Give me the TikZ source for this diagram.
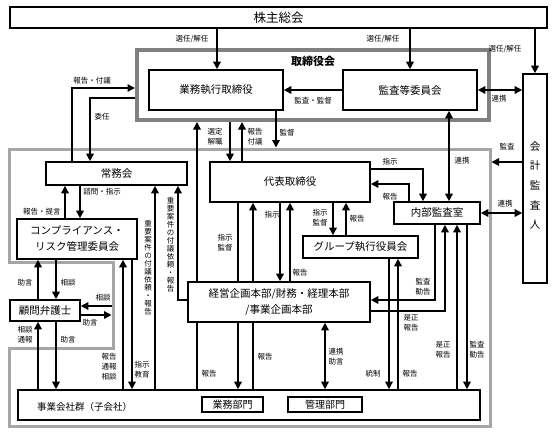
\documentclass[tikz,border=0pt]{standalone}
\usepackage{fontspec}
\setmainfont{Noto Sans CJK JP}
\usetikzlibrary{arrows.meta}
\pgfdeclarelayer{frames}
\pgfdeclarelayer{links}
\pgfsetlayers{frames,links,main}
\tikzset{
  box/.style={draw, line width=1.6pt, fill=white, inner sep=0pt, align=center, font=\fontsize{10.5}{16}\selectfont},
  lnk/.style={line width=1.5pt, -{Triangle[length=7.5pt,width=7.5pt]}},
  dbl/.style={line width=1.5pt, {Triangle[length=7.5pt,width=7.5pt]}-{Triangle[length=7.5pt,width=7.5pt]}},
  lab/.style={inner sep=0pt, align=center, font=\fontsize{7.5}{10}\selectfont},
  vlab/.style={inner sep=0pt, align=center, font=\fontsize{7.5}{8}\selectfont},
}
\begin{document}
\begin{tikzpicture}[x=1pt,y=-1pt]
\useasboundingbox (0,0) rectangle (554,436);
% frames
\begin{pgfonlayer}{frames}
\node[draw=black!50, line width=4pt, minimum width=352pt, minimum height=70pt, inner sep=0pt] (tb) at (313,85) {};
\draw[black!35, line width=3pt] (9,149) -- (490,149) -- (490,426) -- (9,426) -- (9,348) -- (113,348) -- (113,262) -- (9,262) -- cycle;
\end{pgfonlayer}
\coordinate (fN) at (0,147.5);
\coordinate (fE) at (491.5,0);
\coordinate (fW) at (111.5,0);
% boxes
\node[box, minimum width=537pt, minimum height=21pt, font=\fontsize{12.5}{14}\selectfont] (kabu) at (278.5,17.5) {株主総会};
\node[font=\bfseries\fontsize{11}{13}\selectfont, inner sep=0pt] (tbt) at (313,61) {取締役会};
\node[box, minimum width=134pt, minimum height=40pt] (gyomu) at (216,90) {業務執行取締役};
\node[box, minimum width=134pt, minimum height=40pt] (kansa) at (410,90) {監査等委員会};
\node[box, minimum width=24pt, minimum height=209pt] (kaikei) at (535,178.5) {};
\node[inner sep=0pt, align=center, font=\fontsize{10.5}{19.7}\selectfont] (kaikeit) at (535,185.5) {会\\計\\監\\査\\人};
\node[box, minimum width=141pt, minimum height=23pt] (jomu) at (116.5,173.5) {常務会};
\node[box, minimum width=120pt, minimum height=40pt] (comp) at (77,239) {コンプライアンス・\\リスク管理委員会};
\node[box, minimum width=70pt, minimum height=21pt] (komon) at (45,310.5) {顧問弁護士};
\node[box, minimum width=160pt, minimum height=40pt] (daihyo) at (290,182) {代表取締役};
\node[box, minimum width=86pt, minimum height=22pt] (naibu) at (437,213) {内部監査室};
\node[box, minimum width=115pt, minimum height=22pt] (group) at (360.5,247) {グループ執行役員会};
\node[box, minimum width=182pt, minimum height=40pt] (keiei) at (279,302) {経営企画本部/財務・経理本部\\/事業企画本部};
\node[box, minimum width=462pt, minimum height=30pt] (jigyo) at (249,405) {};
\node[anchor=west, inner sep=0pt, font=\fontsize{9.5}{11}\selectfont] (jigyot) at (37,407) {事業会社群（子会社）};
\node[box, minimum width=61pt, minimum height=15pt, font=\fontsize{10}{12}\selectfont] (gb) at (232.5,404.5) {業務部門};
\node[box, minimum width=74pt, minimum height=15pt, font=\fontsize{10}{12}\selectfont] (kb) at (325,404.5) {管理部門};
% connectors
\begin{pgfonlayer}{links}
\draw[lnk] (kabu.south -| 217,0) -- (gyomu.north -| 217,0);
\draw[lnk] (kabu.south -| 410,0) -- (kansa.north);
\draw[lnk] (kabu.south -| 535,0) -- (kaikei.north);
\draw[lnk] (kansa.west) -- (gyomu.east);
\draw[dbl] (kansa.east) -- (kaikei.west |- kansa.east);
\draw[lnk] (jomu.north -| 72,0) -- (72,88) -- (tb.west |- 0,88);
\draw[lnk] (tb.west |- 0,98) -- (90,98) -- (jomu.north -| 90,0);
\draw[lnk] (gyomu.south -| 276,0) -- (276,0 |- fN);
\draw[lnk] (tb.south -| 230,0) -- (daihyo.north -| 230,0);
\draw[lnk] (daihyo.north -| 242,0) -- (tb.south -| 242,0);
\draw[lnk] (jigyo.north -| 197,0) -- (tb.south -| 197,0);
\draw[lnk] (kaikei.west |- 0,162) -- (fE |- 0,162);
\draw[dbl] (kansa.south -| 449,0) -- (naibu.north -| 449,0);
\draw[dbl] (naibu.east) -- (kaikei.west |- naibu.east);
\draw[lnk] (daihyo.east |- 0,169) -- (423,169) -- (naibu.north -| 423,0);
\draw[lnk] (naibu.north -| 409,0) -- (409,184) -- (daihyo.east |- 0,184);
\draw[lnk] (daihyo.south -| 333,0) -- (group.north -| 333,0);
\draw[lnk] (group.north -| 346,0) -- (daihyo.south -| 346,0);
\draw[lnk] (daihyo.south -| 238,0) -- (jigyo.north -| 238,0);
\draw[lnk] (jigyo.north -| 253,0) -- (daihyo.south -| 253,0);
\draw[lnk] (daihyo.south -| 280,0) -- (keiei.north -| 280,0);
\draw[lnk] (keiei.north -| 290,0) -- (daihyo.south -| 290,0);
\draw[dbl] (keiei.south -| 325,0) -- (jigyo.north -| 325,0);
\draw[lnk] (naibu.south -| 435,0) -- (435,300) -- (keiei.east |- 0,300);
\draw[lnk] (keiei.east |- 0,311) -- (445,311) -- (naibu.south -| 445,0);
\draw[lnk] (jigyo.north -| 457,0) -- (naibu.south -| 457,0);
\draw[lnk] (naibu.south -| 467,0) -- (jigyo.north -| 467,0);
\draw[lnk] (group.south -| 389,0) -- (jigyo.north -| 389,0);
\draw[lnk] (jigyo.north -| 398,0) -- (group.south -| 398,0);
\draw[lnk] (jigyo.north -| 155,0) -- (jomu.south -| 155,0);
\draw[lnk] (keiei.west |- 0,300) -- (178,300) -- (jomu.south -| 178,0);
\draw[lnk] (comp.north -| 65,0) -- (jomu.south -| 65,0);
\draw[lnk] (jomu.south -| 80,0) -- (comp.north -| 80,0);
\draw[lnk] (jigyo.north -| 123,0) -- (comp.south -| 123,0);
\draw[lnk] (comp.south -| 132,0) -- (jigyo.north -| 132,0);
\draw[lnk] (komon.north -| 38,0) -- (comp.south -| 38,0);
\draw[lnk] (comp.south -| 56,0) -- (komon.north -| 56,0);
\draw[lnk] (fW |- 0,306) -- (komon.east |- 0,306);
\draw[lnk] (komon.east |- 0,315) -- (fW |- 0,315);
\draw[lnk] (jigyo.north -| 38,0) -- (komon.south -| 38,0);
\draw[lnk] (komon.south -| 56,0) -- (jigyo.north -| 56,0);
\end{pgfonlayer}
% labels
\node[lab] at (192,39) {選任/解任};
\node[lab] at (383,39) {選任/解任};
\node[lab] at (505,49) {選任/解任};
\node[lab] at (313,101) {監査・監督};
\node[lab] at (499,99) {連携};
\node[lab] at (92,81) {報告・付議};
\node[lab] at (102,117) {委任};
\node[lab] at (287,133) {監督};
\node[lab] at (215,137) {選定\\解職};
\node[lab] at (255,137) {報告\\付議};
\node[lab] at (209,374) {報告};
\node[lab] at (507,147) {監査};
\node[lab] at (462,161) {連携};
\node[lab] at (505,204) {連携};
\node[lab] at (390,162) {指示};
\node[lab] at (390,197) {報告};
\node[lab] at (320,218) {指示\\監督};
\node[lab] at (357,219) {報告};
\node[lab] at (225,243) {指示\\監督};
\node[lab] at (265,357) {報告};
\node[lab] at (272,215) {指示};
\node[lab] at (300,273) {報告};
\node[lab] at (336,357) {連携\\助言};
\node[lab] at (423,287) {監査\\勧告};
\node[lab] at (411,323) {是正\\報告};
\node[lab] at (443,350) {是正\\報告};
\node[lab] at (477,350) {監査\\勧告};
\node[lab] at (373,374) {統制};
\node[lab] at (410,374) {報告};
\node[vlab] at (148,267.5) {重\\要\\案\\件\\の\\付\\議\\依\\頼\\・\\報\\告};
\node[vlab] at (170.5,244.5) {重\\要\\案\\件\\の\\付\\議\\依\\頼\\・\\報\\告};
\node[lab] at (42,212) {報告・提言};
\node[lab] at (102,192) {諮問・指示};
\node[lab] at (109,367) {報告\\通報\\相談};
\node[lab] at (142,370) {指示\\教育};
\node[lab] at (25,283) {助言};
\node[lab] at (68,283) {相談};
\node[lab] at (103,298) {相談};
\node[lab] at (90,323) {助言};
\node[lab] at (25,335) {相談\\通報};
\node[lab] at (68,340) {助言};
\end{tikzpicture}
\end{document}
